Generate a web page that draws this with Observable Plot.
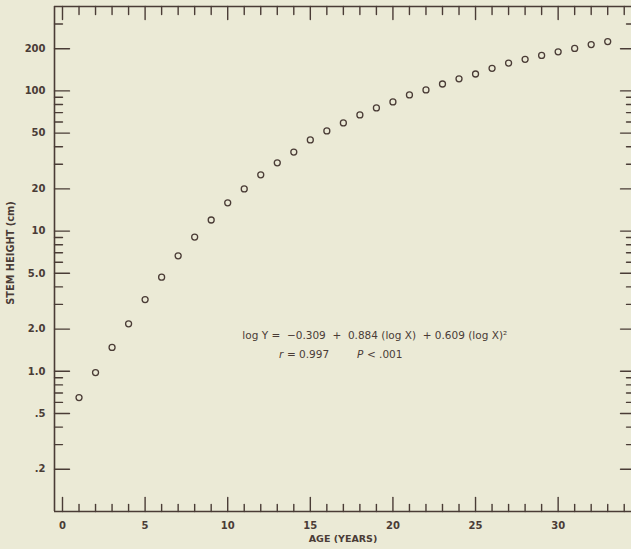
<!DOCTYPE html>
<html>
<head>
<meta charset="utf-8">
<script src="https://cdn.jsdelivr.net/npm/d3@7"></script>
<script src="https://cdn.jsdelivr.net/npm/@observablehq/plot@0.6"></script>
<style>
  html, body { margin: 0; padding: 0; background: #ebead6; }
  #chart svg { display: block; }
</style>
</head>
<body>
<div id="chart"></div>
<script>
// ---- data ----
const ages = [1,2,3,4,5,6,7,8,9,10,11,12,13,14,15,16,17,18,19,20,21,22,23,24,25,26,27,28,29,30,31,32,33];
const heights = [0.65,0.98,1.48,2.18,3.25,4.69,6.66,9.06,12.0,15.9,20.0,25.2,30.7,36.6,44.7,51.8,59.1,67.4,75.6,83.4,93.6,101.7,112,122,132,145,158,168,179,190,201,214,225];

// ---- axes / ticks ----
const xDomain = [-0.484, 34.44];
const yDomain = [0.1, 400];
const xMajor = [0,5,10,15,20,25,30];
const xMajorLabels = ["0","5","10","15","20","25","30"];
const xMinor = [1,2,3,4,6,7,8,9,11,12,13,14,16,17,18,19,21,22,23,24,26,27,28,29,31,32,33,34];
const yMajor = [0.2,0.5,1,2,5,10,20,50,100,200];
const yMajorLabels = [".2",".5","1.0","2.0","5.0","10","20","50","100","200"];
const yMinor = [0.3,0.4,0.6,0.7,0.8,0.9,3,4,6,7,8,9,30,40,60,70,80,90,300];

const xTitle = "AGE (YEARS)";
const yTitle = "STEM HEIGHT (cm)";
const eqText = "log Y =  \u22120.309  +  0.884 (log X)  + 0.609 (log X)\u00B2";
const eqPos = {x: 18.9, y: 1.81};
const statPos = {x: 13.1, y: 1.32};
const statParts = [
  {t: "r", italic: true, dx: 0},
  {t: "= 0.997", italic: false, dx: 8},
  {t: "P", italic: true, dx: 78},
  {t: "< .001", italic: false, dx: 88}
];

const ink = "#4a3c36";
const font = "'DejaVu Sans', sans-serif";

// a straight tick drawn from the anchor point along the vector direction
const tickShape = {draw(context, l) { context.moveTo(0, 0); context.lineTo(0, -l); }};
function ticks(values, channel, side, len) {
  const rotate = {bottom: 0, top: 180, left: 90, right: -90}[side];
  return Plot.vector(values, {
    [channel]: d => d, frameAnchor: side, length: len, rotate, anchor: "start",
    shape: tickShape, stroke: ink, strokeWidth: 1.4
  });
}

const chart = Plot.plot({
  width: 631,
  height: 549,
  marginLeft: 54,
  marginRight: 0,
  marginTop: 6,
  marginBottom: 38,
  style: {background: "#ebead6", color: ink, fontFamily: font},
  x: {domain: xDomain, axis: null},
  y: {type: "log", domain: yDomain, axis: null},
  marks: [
    // frame
    Plot.ruleX([xDomain[0]], {stroke: ink, strokeWidth: 1.6}),
    Plot.ruleY([yDomain[0]], {stroke: ink, strokeWidth: 1.6}),
    Plot.ruleY([yDomain[1]], {stroke: ink, strokeWidth: 1.6}),
    // inward ticks
    ticks(xMajor, "x", "bottom", 14),
    ticks(xMinor, "x", "bottom", 7),
    ticks(xMajor, "x", "top", 13),
    ticks(xMinor, "x", "top", 8),
    ticks(yMajor, "y", "left", 15),
    ticks(yMinor, "y", "left", 8),
    ticks(yMajor, "y", "right", 11),
    ticks(yMinor, "y", "right", 5),
    // tick labels
    Plot.text(xMajor, {x: d => d, text: (d, i) => xMajorLabels[i], frameAnchor: "bottom", lineAnchor: "top",
      dy: 10, fill: ink, fontSize: 10, fontWeight: "bold", fontFamily: font}),
    Plot.text(yMajor, {y: d => d, text: (d, i) => yMajorLabels[i], frameAnchor: "left", textAnchor: "end",
      dx: -9, fill: ink, fontSize: 10, fontWeight: "bold", fontFamily: font}),
    // titles
    Plot.text([xTitle], {frameAnchor: "bottom", dy: 30, fill: ink, fontSize: 9.5, fontWeight: "bold", fontFamily: font}),
    Plot.text([yTitle], {frameAnchor: "left", textAnchor: "middle", rotate: -90, dx: -44, dy: -6,
      fill: ink, fontSize: 9.8, fontWeight: "bold", fontFamily: font}),
    // data
    Plot.dot(ages.map((a, i) => ({age: a, h: heights[i]})), {x: "age", y: "h", r: 3, stroke: ink, strokeWidth: 1.3, fill: "none"}),
    // annotation
    Plot.text([eqPos], {x: "x", y: "y", text: () => eqText, fill: ink, fontSize: 10.5, fontFamily: font}),
    ...statParts.map(p => Plot.text([statPos], {x: "x", y: "y", text: () => p.t, dx: p.dx, textAnchor: "start",
      fill: ink, fontSize: 10.5, fontFamily: font, fontStyle: p.italic ? "italic" : "normal"}))
  ]
});
document.getElementById("chart").append(chart);
</script>
</body>
</html>
